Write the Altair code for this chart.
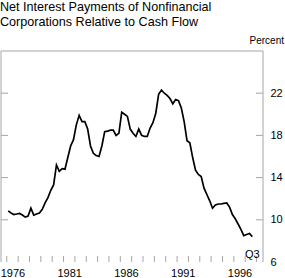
import altair as alt
import pandas as pd

FONT = "Liberation Sans"

start_year = 1976
# quarterly values, 1976Q1 .. 1997Q3 (percent)
rates = [
    10.85, 10.65, 10.5, 10.55,   # 1976
    10.6, 10.45, 10.25, 10.35,   # 1977
    11.1, 10.45, 10.55, 10.65,   # 1978
    11.0, 11.6, 12.1, 12.8,      # 1979
    13.3, 15.2, 14.6, 14.85,     # 1980
    14.8, 15.9, 17.0, 17.6,      # 1981
    19.0, 19.9, 19.3, 19.3,      # 1982
    18.6, 17.0, 16.3, 16.1,      # 1983
    16.0, 17.0, 18.35, 18.4,     # 1984
    18.5, 18.5, 18.0, 18.2,      # 1985
    20.2, 20.0, 19.8, 18.6,      # 1986
    18.2, 17.9, 18.6, 18.0,      # 1987
    17.9, 17.9, 18.7, 19.2,      # 1988
    20.1, 21.9, 22.3, 22.0,      # 1989
    21.8, 21.5, 21.0, 21.4,      # 1990
    21.3, 20.6, 19.3, 17.5,      # 1991
    17.3, 15.9, 14.7, 14.3,      # 1992
    14.1, 13.0, 12.4, 11.8,      # 1993
    11.1, 11.4, 11.5, 11.5,      # 1994
    11.55, 11.6, 11.2, 10.5,     # 1995
    10.1, 9.6, 9.1, 8.5,         # 1996
    8.6, 8.7, 8.4,               # 1997
]
year_labels = [1976, 1981, 1986, 1991, 1996]
tick_years = list(range(1976, 1999))
y_ticks = [10, 14, 18, 22]
y_labels = [6, 10, 14, 18, 22]
last_label = "Q3"
title_lines = ["Net Interest Payments of Nonfinancial", "Corporations Relative to Cash Flow"]
unit_label = "Percent"

df = pd.DataFrame({
    "t": [start_year + (i + 0.5) / 4 for i in range(len(rates))],
    "v": rates,
})
last_df = df.tail(1).assign(lab=last_label)
ticks_df = pd.DataFrame({"t": tick_years})
yt_df = pd.DataFrame({"v": y_ticks})
one = pd.DataFrame({"a": [0]})

W, H = 262, 211
GRAY = "#a6a6a6"
xs = alt.Scale(domain=[1975.49, 1998.57], nice=False, zero=False)
ys = alt.Scale(domain=[6, 26], nice=False, zero=False)

x_axis = alt.Axis(values=[y + 0.5 for y in year_labels],
                  labelExpr="toString(floor(datum.value))",
                  ticks=False, domain=False, grid=False, title=None,
                  labelPadding=5, labelFontSize=11, labelFont=FONT,
                  labelColor="#000", labelFlush=False)
y_axis = alt.Axis(orient="right", values=y_labels, ticks=False,
                  domain=False, grid=False, title=None, labelPadding=7,
                  labelFontSize=11, labelFont=FONT, labelColor="#000")

X = alt.X("t:Q", scale=xs, axis=x_axis)
Y = alt.Y("v:Q", scale=ys, axis=y_axis)

line = alt.Chart(df).mark_line(color="#000", strokeWidth=1.7).encode(x=X, y=Y)

bticks = alt.Chart(ticks_df).mark_rule(color=GRAY, strokeWidth=1).encode(
    x=X, y=alt.value(H), y2=alt.value(H - 6))
lticks = alt.Chart(yt_df).mark_rule(color=GRAY, strokeWidth=1).encode(
    y=Y, x=alt.value(0), x2=alt.value(7))
rticks = alt.Chart(yt_df).mark_rule(color=GRAY, strokeWidth=1).encode(
    y=Y, x=alt.value(W - 7), x2=alt.value(W))
frame_l = alt.Chart(one).mark_rule(color=GRAY, strokeWidth=1).encode(
    x=alt.value(0), y=alt.value(0), y2=alt.value(H))
frame_r = alt.Chart(one).mark_rule(color=GRAY, strokeWidth=1).encode(
    x=alt.value(W), y=alt.value(0), y2=alt.value(H))
frame_t = alt.Chart(one).mark_rule(color=GRAY, strokeWidth=1).encode(
    y=alt.value(0), x=alt.value(0), x2=alt.value(W))

percent = alt.Chart(one).mark_text(
    text=unit_label, align="right", baseline="alphabetic",
    fontSize=10, font=FONT, color="#000").encode(
    x=alt.value(W + 21), y=alt.value(-7))

title1 = alt.Chart(one).mark_text(
    text=title_lines[0], align="left", baseline="alphabetic",
    fontSize=12.6, font=FONT, color="#000").encode(
    x=alt.value(-1), y=alt.value(-40))
title2 = alt.Chart(one).mark_text(
    text=title_lines[1], align="left", baseline="alphabetic",
    fontSize=12.6, font=FONT, color="#000").encode(
    x=alt.value(-1), y=alt.value(-25))

q3 = alt.Chart(last_df).mark_text(
    align="center", baseline="middle", fontSize=11, font=FONT,
    color="#000", dy=18).encode(x=X, y=Y, text="lab:N")

chart = alt.layer(
    frame_l, frame_r, frame_t, bticks, lticks, rticks, line,
    percent, title1, title2, q3
).properties(
    width=W, height=H,
    autosize=alt.AutoSizeParams(type="none"),
    padding={"left": 1, "top": 51, "right": 22, "bottom": 16},
).configure_view(stroke=None)

chart.save("out.html", embed_options={"renderer": "svg", "actions": False})
